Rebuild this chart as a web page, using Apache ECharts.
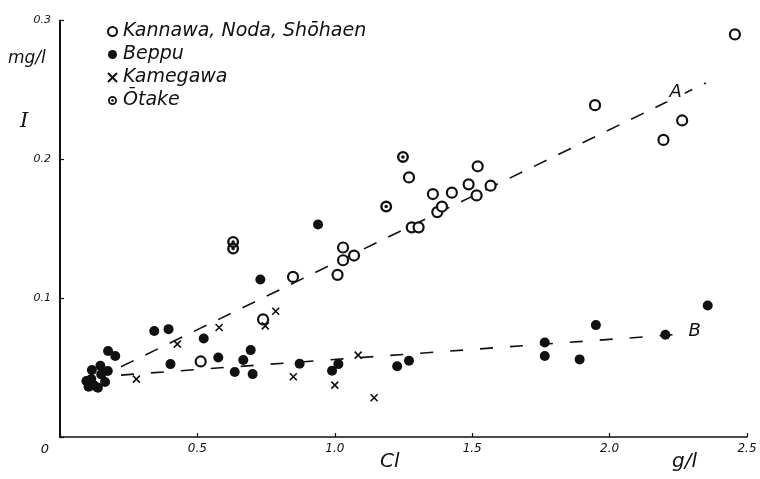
<!DOCTYPE html>
<html><head><meta charset="utf-8">
<script src="https://cdn.jsdelivr.net/npm/echarts@6/dist/echarts.min.js"></script>
<style>html,body{margin:0;padding:0;background:#fff}#c{width:760px;height:479px}</style>
</head><body><div id="c"></div>
<script>
// ---- data (Cl g/l, I mg/l) ----
const seriesNames = ['Kannawa, Noda, Shōhaen', 'Beppu', 'Kamegawa', 'Ōtake'];
const kannawa = [[0.512,0.0544],[0.739,0.0847],[0.848,0.1153],[1.01,0.1168],[1.03,0.1365],[1.03,0.1273],[1.07,0.1307],[1.28,0.151],[1.305,0.151],[1.27,0.187],[1.357,0.175],[1.373,0.162],[1.39,0.166],[1.426,0.176],[1.487,0.182],[1.516,0.174],[1.52,0.195],[1.567,0.181],[1.947,0.239],[2.196,0.214],[2.264,0.228],[2.456,0.290]];
const beppu = [[0.096,0.0403],[0.104,0.0362],[0.114,0.0417],[0.116,0.0482],[0.126,0.0369],[0.138,0.0355],[0.147,0.0513],[0.150,0.0451],[0.164,0.0396],[0.174,0.0475],[0.175,0.0619],[0.201,0.0583],[0.343,0.0763],[0.395,0.0777],[0.402,0.0525],[0.523,0.071],[0.576,0.0573],[0.636,0.0468],[0.667,0.0554],[0.694,0.0626],[0.701,0.0453],[0.729,0.1134],[0.872,0.0527],[0.939,0.153],[0.99,0.0477],[1.013,0.0525],[1.227,0.0509],[1.27,0.0549],[1.764,0.0681],[1.764,0.0583],[1.891,0.0559],[1.95,0.0806],[2.203,0.0736],[2.357,0.0947]];
const kamegawa = [[0.278,0.0417],[0.427,0.0669],[0.579,0.0789],[0.747,0.080],[0.785,0.0906],[0.849,0.0434],[1.0,0.0374],[1.085,0.059],[1.143,0.0283]];
const otake = [[0.63,0.1405],[0.63,0.1357],[1.187,0.166],[1.248,0.2017]];
const lineA = [[0.222,0.0506],[2.35,0.255]];
const lineB = [[0.222,0.0446],[2.38,0.0758]];
const lineLabels = [[2.24,0.248,'A'],[2.31,0.0758,'B']];
const xTickLabels = ['0','0.5','1.0','1.5','2.0','2.5'];
const yTickLabels = ['0','0.1','0.2','0.3'];

const FONT = 'DejaVu Sans';
const INK = '#111';
const otakePath = 'path://M0,10A10,10 0 1,1 20,10A10,10 0 1,1 0,10Z M4,10A6,6 0 1,0 16,10A6,6 0 1,0 4,10Z M7,10A3,3 0 1,1 13,10A3,3 0 1,1 7,10Z';
const crossPath = 'path://M0,0L10,10M10,0L0,10';

const chart = echarts.init(document.getElementById('c'), null, {renderer: 'canvas'});
chart.setOption({
  animation: false,
  backgroundColor: '#fff',
  grid: {left: 60, right: 13, top: 20.5, bottom: 42},
  legend: {
    data: seriesNames,
    orient: 'vertical',
    left: 102, top: 17,
    itemWidth: 9, itemHeight: 9, itemGap: 4,
    textStyle: {fontFamily: FONT, fontStyle: 'italic', fontSize: 19, color: INK, padding: [0,0,0,1]},
    selectedMode: false
  },
  xAxis: {
    type: 'value', min: 0, max: 2.5, interval: 0.5,
    axisLine: {lineStyle: {color: INK, width: 1.5}},
    axisTick: {inside: true, length: 4, lineStyle: {color: INK, width: 1.2}},
    splitLine: {show: false},
    axisLabel: {
      margin: 6, color: INK, fontFamily: FONT, fontStyle: 'italic', fontSize: 12,
      formatter: v => { const i = Math.round(v / 0.5); const t = xTickLabels[i] || ''; return i === 0 ? '{o|' + t + '}' : t; },
      rich: {o: {padding: [0, 30, 0, 0], fontFamily: FONT, fontStyle: 'italic', fontSize: 13, color: INK}}
    }
  },
  yAxis: {
    type: 'value', min: 0, max: 0.3, interval: 0.1,
    axisLine: {show: true, lineStyle: {color: INK, width: 2}},
    axisTick: {show: true, inside: true, length: 4, lineStyle: {color: INK, width: 1.2}},
    splitLine: {show: false},
    axisLabel: {
      margin: 9, color: INK, fontFamily: FONT, fontStyle: 'italic', fontSize: 11,
      formatter: v => { const i = Math.round(v / 0.1); return i === 0 ? '' : (yTickLabels[i] || ''); }
    }
  },
  graphic: [
    {type: 'text', left: 8, top: 50, style: {text: 'mg/l', fontFamily: FONT, fontStyle: 'italic', fontSize: 17, fill: INK}},
    {type: 'text', left: 20, top: 111, style: {text: 'I', fontFamily: 'DejaVu Serif', fontStyle: 'italic', fontSize: 21, fill: INK}},
    {type: 'text', left: 380, top: 452, style: {text: 'Cl', fontFamily: FONT, fontStyle: 'italic', fontSize: 20, fill: INK}},
    {type: 'text', left: 672, top: 452, style: {text: 'g/l', fontFamily: FONT, fontStyle: 'italic', fontSize: 20, fill: INK}}
  ],
  series: [
    {type: 'line', data: lineA, symbol: 'none', silent: true, z: 1,
     lineStyle: {color: INK, width: 1.6, type: [14, 13]}},
    {type: 'line', data: lineB, symbol: 'none', silent: true, z: 1,
     lineStyle: {color: INK, width: 1.6, type: [13, 17]}},
    {name: seriesNames[0], type: 'scatter', data: kannawa, symbol: 'circle', symbolSize: 10, z: 3,
     itemStyle: {color: '#fff', borderColor: INK, borderWidth: 2.2, opacity: 1}},
    {name: seriesNames[1], type: 'scatter', data: beppu, symbol: 'circle', symbolSize: 10, z: 4,
     itemStyle: {color: INK, opacity: 1}},
    {name: seriesNames[2], type: 'scatter', data: kamegawa, symbol: crossPath, symbolSize: 7, z: 4,
     itemStyle: {color: INK, borderColor: INK, borderWidth: 1.6, opacity: 1}},
    {name: seriesNames[3], type: 'scatter', data: otake, symbol: otakePath, symbolSize: 12, z: 4,
     itemStyle: {color: INK, opacity: 1}},
    {type: 'scatter', data: lineLabels, symbolSize: 0, silent: true, z: 5,
     itemStyle: {opacity: 1},
     label: {show: true, position: 'inside', formatter: p => p.data[2], fontFamily: FONT, fontStyle: 'italic',
             fontSize: 18, color: INK, backgroundColor: '#fff', padding: [0, 3]}}
  ]
});
</script></body></html>
